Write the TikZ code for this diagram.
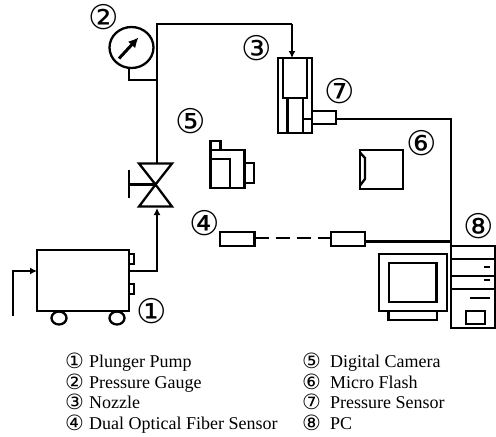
\documentclass[tikz,border=0pt]{standalone}
\usepackage{fontspec}
\setmainfont{Liberation Serif}
\newfontfamily\circfont{DejaVu Sans}
\usetikzlibrary{arrows.meta}
\tikzset{
  ln/.style={draw=black,line width=2.3pt},
  arr/.style={ln,-{Latex[length=7pt,width=7pt]}},
  bignum/.style={inner sep=0pt,font=\circfont\fontsize{34}{34}\selectfont},
  legnum/.style={inner sep=0pt,anchor=base,font=\circfont\fontsize{21}{21}\selectfont},
  legtxt/.style={inner sep=0pt,anchor=base west,font=\fontsize{18}{18}\selectfont}
}
\begin{document}
\begin{tikzpicture}[x=1pt,y=-1pt]
\useasboundingbox (0,0) rectangle (496,437);
% labels
\node[bignum] (n1) at (152,311) {①};
\node[bignum] (n2) at (104,17) {②};
\node[bignum] (n3) at (257,48) {③};
\node[bignum] (n4) at (205,223) {④};
\node[bignum] (n5) at (190.5,121) {⑤};
\node[bignum] (n6) at (422,143) {⑥};
\node[bignum] (n7) at (340,91) {⑦};
\node[bignum] (n8) at (479,226) {⑧};
% pump
\draw[ln] (37,250) rectangle (129,311);
\draw[ln] (129,254) -- (134,254) -- (134,264) -- (129,264);
\draw[ln] (129,284) -- (134,284) -- (134,294) -- (129,294);
\draw[ln] (59,318) ellipse (7.5 and 6.5);
\draw[ln] (117,318) ellipse (7.5 and 6.5);
\coordinate (inl) at (13,316);
\coordinate (inc) at (13,271);
\coordinate (pin) at (37,271);
\draw[arr] (inl) -- (inc) -- (pin);
% valve
\coordinate (vc) at (155.5,184.5);
\draw[ln] (vc) -- (139,163.5) -- (172,163.5) -- cycle;
\draw[ln] (vc) -- (139,206.5) -- (172,206.5) -- cycle;
\draw[ln] (vc) -- (129,184.5);
\draw[ln] (129,170) -- (129,198);
\coordinate (pout) at (129,271);
\coordinate (pc) at (157,271);
\coordinate (vb) at (157,208);
\draw[arr] (pout) -- (pc) -- (vb);
% pipe and gauge
\coordinate (vt) at (157,163.5);
\coordinate (tl) at (157,24);
\coordinate (tr) at (292,24);
\coordinate (noz) at (292,58);
\draw[ln] (vt) -- (tl) -- (tr);
\draw[arr] (tr) -- (noz);
\draw[ln] (131.5,47.5) ellipse (22 and 20.5);
\draw[ln] (129,68) -- (129,80) -- (157,80);
\draw[line width=3pt,-{Latex[length=10pt,width=10pt]}] (119,58.5) -- (138.5,37.5);
% nozzle
\draw[ln] (278,58) rectangle (312,133);
\draw[ln] (283,58) rectangle (307,98);
\draw[ln] (287.5,98) -- (287.5,133);
\draw[ln] (303,98) -- (303,133);
\draw[ln] (303,119) -- (312,119);
\draw[ln] (312,111) rectangle (336,124);
\draw[ln] (336,119) -- (451,119) -- (451,246);
% fibre
\draw[ln] (220,232) rectangle (254.5,246);
\draw[ln] (331,232) rectangle (365,246);
\draw[ln,dash pattern=on 14pt off 7pt] (254.5,238) -- (331,238);
\draw[ln] (365,241.5) -- (451,241.5);
% camera
\draw[ln] (210.5,141) rectangle (220.5,150);
\draw[ln] (210.5,150) rectangle (244.5,188);
\draw[ln] (210.5,159) -- (230,159) -- (230,188);
\draw[ln] (244.5,163) -- (254,163) -- (254,183) -- (244.5,183);
% flash
\draw[ln] (360,150) rectangle (403,189);
\draw[ln] (360,152.5) -- (365,158) -- (365,179) -- (360,185.5);
% monitor
\draw[ln] (379,254) rectangle (447,311);
\draw[ln] (389,263) rectangle (436.5,302);
\draw[ln] (388.5,311) rectangle (437,320);
% tower
\draw[ln] (451,246) rectangle (495,328);
\draw[ln] (451,259) -- (495,259);
\draw[ln] (451,276) -- (495,276);
\draw[ln] (451,289) -- (495,289);
\draw[ln] (484,267) -- (490,267);
\draw[ln] (484,280) -- (490,280);
\draw[ln] (470,298) -- (490,298);
\draw[ln] (466,311) rectangle (485,324);
% legend
\node[legnum] (l1) at (74.5,368.5) {①}; \node[legtxt] (t1) at (89,367) {Plunger Pump};
\node[legnum] (l2) at (74.5,389.5) {②}; \node[legtxt] (t2) at (89,388) {Pressure Gauge};
\node[legnum] (l3) at (74.5,409.5) {③}; \node[legtxt] (t3) at (89,408) {Nozzle};
\node[legnum] (l4) at (74.5,430.5) {④}; \node[legtxt] (t4) at (89,429) {Dual Optical Fiber Sensor};
\node[legnum] (l5) at (311.5,368.5) {⑤}; \node[legtxt] (t5) at (330,367) {Digital Camera};
\node[legnum] (l6) at (311.5,389.5) {⑥}; \node[legtxt] (t6) at (330,388) {Micro Flash};
\node[legnum] (l7) at (311.5,409.5) {⑦}; \node[legtxt] (t7) at (330,408) {Pressure Sensor};
\node[legnum] (l8) at (311.5,430.5) {⑧}; \node[legtxt] (t8) at (330,429) {PC};
\end{tikzpicture}
\end{document}
